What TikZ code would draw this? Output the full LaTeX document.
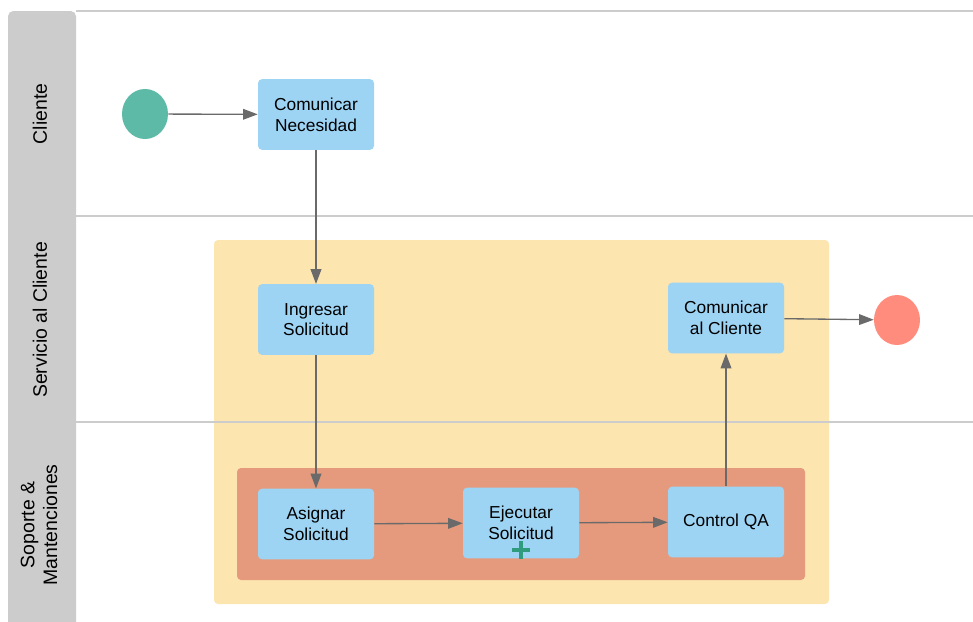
\documentclass[tikz,border=0pt]{standalone}
\usepackage{fontspec}
\setmainfont{Liberation Sans}
\usetikzlibrary{arrows.meta,shapes.geometric}

\definecolor{lanegray}{HTML}{CCCCCC}
\definecolor{taskblue}{HTML}{9DD3F3}
\definecolor{startgreen}{HTML}{5CBAA7}
\definecolor{endred}{HTML}{FF8C7C}
\definecolor{poolyellow}{HTML}{FCE5AF}
\definecolor{subred}{HTML}{E59A7D}
\definecolor{flowgray}{HTML}{6A6A6A}
\definecolor{plusgreen}{HTML}{2E9C7D}

\tikzset{
  task/.style={fill=taskblue, rounded corners=3pt, minimum width=87pt, minimum height=53pt,
    inner sep=0pt, align=center, font=\fontsize{13}{15.5}\selectfont},
  event/.style={ellipse, minimum width=34.5pt, minimum height=37.5pt, inner sep=0pt},
  flow/.style={draw=flowgray, line width=1pt, -{Triangle[length=11pt,width=8pt]}},
  lanename/.style={rotate=90, align=center, font=\fontsize{14.6}{17}\selectfont},
  laneline/.style={draw=lanegray, line width=1.5pt}
}

\begin{document}
\begin{tikzpicture}[x=0.75pt,y=-0.75pt]
	\useasboundingbox (0,0) rectangle (973,621);
	% groups
	\fill[poolyellow, rounded corners=3pt] (214,240) rectangle (829,604);
	\fill[subred, rounded corners=3pt] (237,468) rectangle (805,580);
	% lanes
	\draw[laneline] (76,11) -- (973,11);
	\draw[laneline] (76,216) -- (973,216);
	\draw[laneline] (76,422) -- (973,422);
	\fill[lanegray, rounded corners=4pt] (8,630) -- (8,11) -- (76,11) [sharp corners] -- (76,630) -- cycle;
	\node[lanename] (l1) at (40,114) {Cliente};
	\node[lanename] (l2) at (40,320) {Servicio al Cliente};
	\node[lanename] (l3) at (39,525) {Soporte \&\\Mantenciones};

	% events and tasks
	\node[event, fill=startgreen] (st) at (145,114) {};
	\node[task] (cn) at (316,114.5) {Comunicar\\Necesidad};
	\node[task] (is) at (316,319.5) {Ingresar\\Solicitud};
	\node[task] (cc) at (726,318) {Comunicar\\al Cliente};
	\node[event, fill=endred] (en) at (897,320) {};
	\node[task] (as) at (316,524) {Asignar\\Solicitud};
	\node[task] (ej) at (521,523) {Ejecutar\\Solicitud};
	\node[task] (qa) at (726,522) {Control QA};
	\draw[plusgreen, line width=2.6pt] (512,550) -- (530,550) (521,541) -- (521,559);

	% flows
	\draw[flow] (st) -- (cn);
	\draw[flow] (cn) -- (is);
	\draw[flow] (is) -- (as);
	\draw[flow] (as) -- (ej);
	\draw[flow] (ej) -- (qa);
	\draw[flow] (qa) -- (cc);
	\draw[flow] (cc) -- (en);
\end{tikzpicture}
\end{document}
